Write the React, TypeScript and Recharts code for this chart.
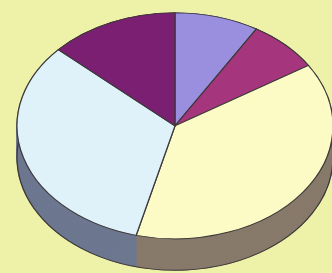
import { PieChart, Pie, Cell } from 'recharts';

// slice shares, clockwise from 12 o'clock
const slices = ['A', 'B', 'C', 'D', 'E'];
const values = [8.6, 7.4, 37.9, 32.8, 13.2];

const topColors = ['#9a8fdf', '#a5357d', '#fcfbc6', '#dff2f9', '#7a1f72'];
const sideColors = ['#5c5690', '#6c2552', '#887a6b', '#6d7790', '#4c1646'];

const data = slices.map((name, i) => ({ name, value: values[i] }));

const squash = 0.715;
const W = 332;
const H = 273;
const cx = 175;
const cy = 176;
const r = 158;
const depth = 44;
const layers = Array.from({ length: depth / 2 + 1 }, (_, i) => depth - i * 2);

function App() {
  return (
    <div
      style={{
        position: 'absolute',
        left: 0,
        top: 0,
        width: W,
        height: H,
        background: '#eef2a9',
        overflow: 'hidden'
      }}
    >
      <div style={{ transform: `scale(1, ${squash})`, transformOrigin: '0 0' }}>
        <PieChart
          width={W}
          height={Math.round(H / squash)}
          margin={{ top: 0, right: 0, bottom: 0, left: 0 }}
        >
          {layers.map((off) => (
            <Pie
              key={'side' + off}
              data={data}
              dataKey="value"
              cx={cx}
              cy={cy + off}
              outerRadius={r}
              startAngle={90}
              endAngle={-270}
              isAnimationActive={false}
            >
              {data.map((d, i) => (
                <Cell key={d.name} fill={sideColors[i]} stroke={sideColors[i]} />
              ))}
            </Pie>
          ))}
          <Pie
            data={[{ name: 'rim', value: 1 }]}
            dataKey="value"
            cx={cx}
            cy={cy + depth}
            outerRadius={r}
            startAngle={90}
            endAngle={-270}
            fill="none"
            stroke="#3e3a3a"
            strokeWidth={1.4}
            isAnimationActive={false}
          />
          <Pie
            data={data}
            dataKey="value"
            cx={cx}
            cy={cy}
            outerRadius={r}
            startAngle={90}
            endAngle={-270}
            stroke="#3e3a3a"
            strokeWidth={1.3}
            isAnimationActive={false}
          >
            {data.map((d, i) => (
              <Cell key={d.name} fill={topColors[i]} />
            ))}
          </Pie>
        </PieChart>
      </div>
    </div>
  );
}

export default App;
